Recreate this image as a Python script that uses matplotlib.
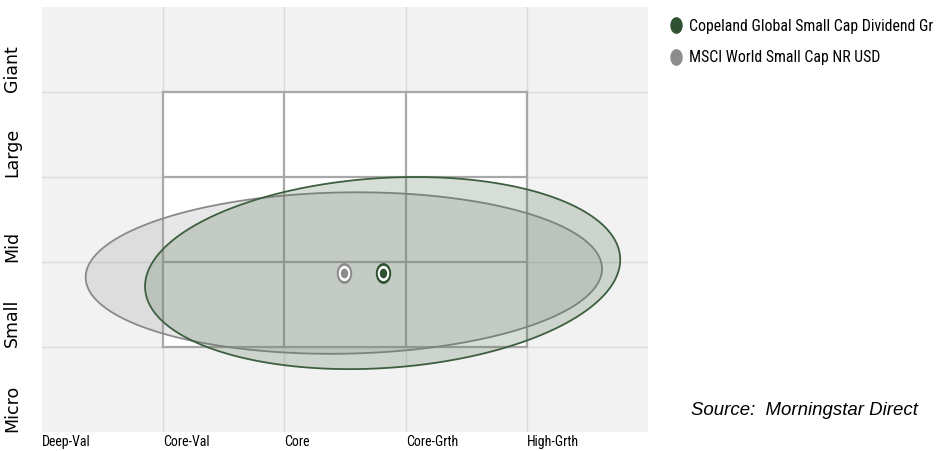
import numpy as np
import matplotlib.pyplot as plt
from matplotlib.patches import Polygon, Rectangle
from matplotlib.lines import Line2D
from matplotlib.path import Path

style_labels = ['Deep-Val', 'Core-Val', 'Core', 'Core-Grth', 'High-Grth']
size_labels = ['Micro', 'Small', 'Mid', 'Large', 'Giant']

names = ['MSCI World Small Cap NR USD', 'Copeland Global Small Cap Dividend Gr']
centroid_x = [2.49, 2.81]
centroid_y = [1.87, 1.87]
# ellipse: half-spread in x, half-spread in y, phase between them (deg)
spread_x = [2.13, 1.96]
spread_y = [0.95, 1.13]
phase = [87.0, 82.0]

edge_cols = ['#8a8a8a', '#3d5f40']
fill_cols = ['#a0a0a0', '#4a6b4c']
fill_alpha = [0.25, 0.22]
dot_cols = ['#8c8c8c', '#2f5233']

narrow = ['Liberation Sans Narrow', 'Roboto Condensed', 'Roboto', 'DejaVu Sans']

# slightly tall oval marker like the reference
circ = Path.unit_circle()
oval = Path(circ.vertices * [0.72, 1.0], circ.codes)

fig = plt.figure(figsize=(9.38, 4.51), dpi=100)
ax = fig.add_axes([0.0448, 0.0421, 0.6461, 0.9424])
ax.set_facecolor('#f2f2f2')
ax.set_xlim(0, 5)
ax.set_ylim(0, 5)
for s in ax.spines.values():
    s.set_visible(False)

# light grid across the whole box
for k in range(1, 5):
    ax.plot([k, k], [0, 5], color='#dadada', lw=1, zorder=1)
    ax.plot([0, 5], [k, k], color='#dadada', lw=1, zorder=1)

# white 3x3 style box with darker lines
ax.add_patch(Rectangle((1, 1), 3, 3, facecolor='white', edgecolor='none', zorder=1.5))
for k in range(1, 5):
    ax.plot([k, k], [1, 4], color='#a8a8a8', lw=1.6, zorder=2)
    ax.plot([1, 4], [k, k], color='#a8a8a8', lw=1.6, zorder=2)

t = np.linspace(0, 2 * np.pi, 400)
for i in range(2):
    xs = centroid_x[i] + spread_x[i] * np.cos(t)
    ys = centroid_y[i] + spread_y[i] * np.cos(t - np.radians(phase[i]))
    ax.add_patch(Polygon(np.column_stack([xs, ys]), closed=True,
                         facecolor=fill_cols[i], alpha=fill_alpha[i],
                         edgecolor='none', zorder=3 + i))
    ax.add_patch(Polygon(np.column_stack([xs, ys]), closed=True,
                         facecolor='none', edgecolor=edge_cols[i], lw=1.3,
                         zorder=3 + i))

for i in range(2):
    ax.plot(centroid_x[i], centroid_y[i], marker=oval, ms=14, color=dot_cols[i],
            markeredgecolor=dot_cols[i], zorder=6)
    ax.plot(centroid_x[i], centroid_y[i], marker=oval, ms=10, color='white',
            markeredgecolor='white', zorder=7)
    ax.plot(centroid_x[i], centroid_y[i], marker=oval, ms=6, color=dot_cols[i],
            markeredgecolor=dot_cols[i], zorder=8)

ax.set_xticks(range(5))
ax.set_xticklabels(style_labels, ha='left', family=narrow, fontsize=10)
ax.set_yticks(range(5))
ax.set_yticklabels(size_labels, rotation=90, va='bottom', fontsize=12.5)
ax.tick_params(length=0)
ax.tick_params(axis='x', pad=2)
ax.tick_params(axis='y', pad=15)

handles = [Line2D([], [], marker=oval, ls='none', ms=11, color=dot_cols[1]),
           Line2D([], [], marker=oval, ls='none', ms=11, color=dot_cols[0])]
fig.legend(handles, [names[1], names[0]], loc='upper left',
           bbox_to_anchor=(0.697, 0.99), frameon=False, handletextpad=0.35,
           labelspacing=1.05, prop={'family': narrow, 'size': 11.4}, handlelength=1)

fig.text(0.737, 0.09, 'Source:  Morningstar Direct', style='italic',
         family='Liberation Sans', fontsize=13.4, va='center')

fig.savefig('out.png', dpi=100)
